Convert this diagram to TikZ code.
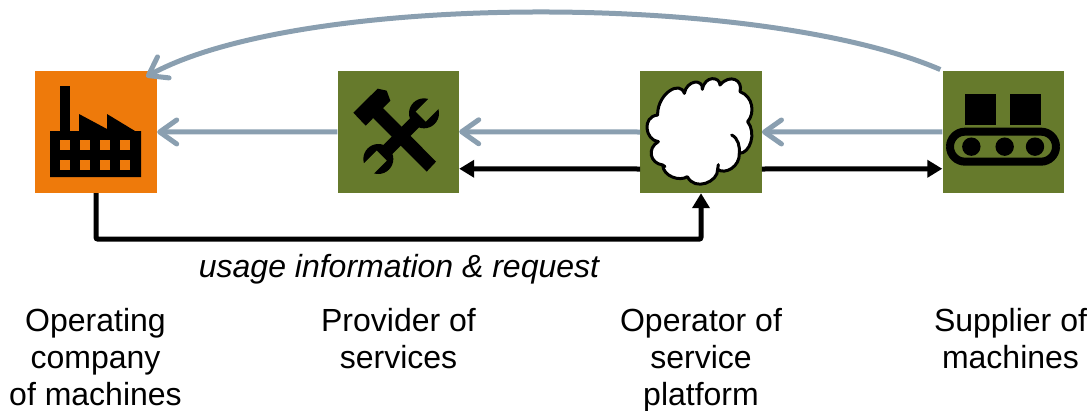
\documentclass[tikz,border=0pt]{standalone}
\usepackage{fontspec}
\setmainfont{Liberation Sans}
\usetikzlibrary{arrows.meta}
\definecolor{orangebox}{HTML}{EE7A0B}
\definecolor{greenbox}{HTML}{667A2C}
\definecolor{flowgray}{HTML}{8A9FB0}
\tikzset{
  orangesq/.style={fill=orangebox,draw=none,minimum width=122pt,minimum height=122pt,inner sep=0pt},
  greensq/.style={fill=greenbox,draw=none,minimum width=121.5pt,minimum height=122pt,inner sep=0pt},
  grayflow/.style={draw=flowgray,line width=5pt,-{Straight Barb[length=17pt,width=24pt,round,line width=5pt]}},
  blackflow/.style={draw=black,line width=5pt,-{Triangle[length=15pt,width=17pt]}},
  caption/.style={align=center,inner sep=0pt,font=\fontsize{32}{37}\selectfont},
  zoomed/.style={x=0.33333pt,y=-0.33333pt}
}
\begin{document}
\begin{tikzpicture}[x=1pt,y=-1pt]
\useasboundingbox (0,0) rectangle (1092,410);
\node[orangesq] (op) at (96,132) {};
\node[greensq] (prov) at (398.25,131.75) {};
\node[greensq] (plat) at (701,132) {};
\node[greensq] (supp) at (1003.25,131.75) {};

% factory
\fill (60,86) rectangle (70,131);
\fill (50,177) -- (50,131) -- (79,131) -- (79,114) -- (107,129) -- (107,114) -- (135,131) -- (141,131) -- (141,177) -- cycle;
\foreach \wx in {60,80,100,120}{
  \fill[orangebox] (\wx,140) rectangle ++(10,10);
  \fill[orangebox] (\wx,160) rectangle ++(10,10);
}

% tools
\begin{scope}[shift={(325,60)},zoomed]
  \fill (297,160) circle (15pt);
  \fill (160,297) circle (15pt);
  \fill[greenbox] (272,155) -- (316,111) -- (346,141) -- (302,185) -- cycle;
  \fill[greenbox] (185,302) -- (141,346) -- (111,316) -- (155,272) -- cycle;
  \fill (265,165) -- (292,192) -- (192,292) -- (165,265) -- cycle;
  \fill (85,158) -- (158,86) -- (185,92) -- (196,122) -- (122,197) -- cycle;
  \fill (140,170) -- (170,140) -- (333,305) -- (305,335) -- cycle;
\end{scope}

% cloud
\begin{scope}[shift={(625,60)},zoomed]
  \filldraw[fill=white,draw=black,line width=3pt,line join=round]
    (98,160) .. controls (100,100) and (165,60) .. (178,100)
    .. controls (185,60) and (235,55) .. (232,88)
    .. controls (240,45) and (285,50) .. (285,75)
    .. controls (315,40) and (355,60) .. (345,95)
    .. controls (385,110) and (390,160) .. (368,185)
    .. controls (395,220) and (375,280) .. (343,280)
    .. controls (345,320) and (300,345) .. (278,328)
    .. controls (280,365) and (210,395) .. (187,350)
    .. controls (165,365) and (115,350) .. (113,315)
    .. controls (75,310) and (65,265) .. (100,245)
    .. controls (60,240) and (50,170) .. (98,165)
    -- cycle;
  \draw[black,line width=3pt,line cap=round] (320,225) .. controls (340,235) and (345,260) .. (343,282);
  \draw[black,line width=3pt,line cap=round] (278,328) -- (280,314);
  \draw[black,line width=3pt,line cap=round] (113,315) -- (120,320);
\end{scope}

% conveyor
\begin{scope}[shift={(930,60)},zoomed]
  \fill (105,102) rectangle (198,195);
  \fill (240,102) rectangle (333,195);
  \draw[line width=8pt,rounded corners=15pt] (60,215) rectangle (378,305);
  \fill (124,260) circle (9.2pt);
  \fill (224,260) circle (9.2pt);
  \fill (315,260) circle (9.2pt);
\end{scope}

% connectors
\draw[grayflow] (prov.west) -- (op.east);
\draw[grayflow] (plat.west) -- (prov.east);
\draw[grayflow] (supp.west) -- (plat.east);
\draw[blackflow] ([shift={(0,37)}]plat.west) -- ([shift={(0,37)}]prov.east);
\draw[blackflow] ([shift={(0,37)}]plat.east) -- ([shift={(0,37)}]supp.west);
\draw[blackflow,rounded corners=2pt] (op.south) -- ++(0,46) -| (plat.south);
\draw[grayflow] ([shift={(-2,-1)}]supp.north west) .. controls (760,-8) and (300,-8) .. ([shift={(-11,6)}]op.north east);

% labels
\node[caption,font=\fontsize{32}{37}\selectfont\itshape] (usage) at (399,269) {usage information \& request};
\node[caption,anchor=north] (capop) at (95.5,308) {Operating\\company\\of machines};
\node[caption,anchor=north] (capprov) at (398.5,308) {Provider of\\services};
\node[caption,anchor=north] (capplat) at (701,308) {Operator of\\service\\platform};
\node[caption,anchor=north] (capsupp) at (1010.5,308) {Supplier of\\machines};
\end{tikzpicture}
\end{document}
